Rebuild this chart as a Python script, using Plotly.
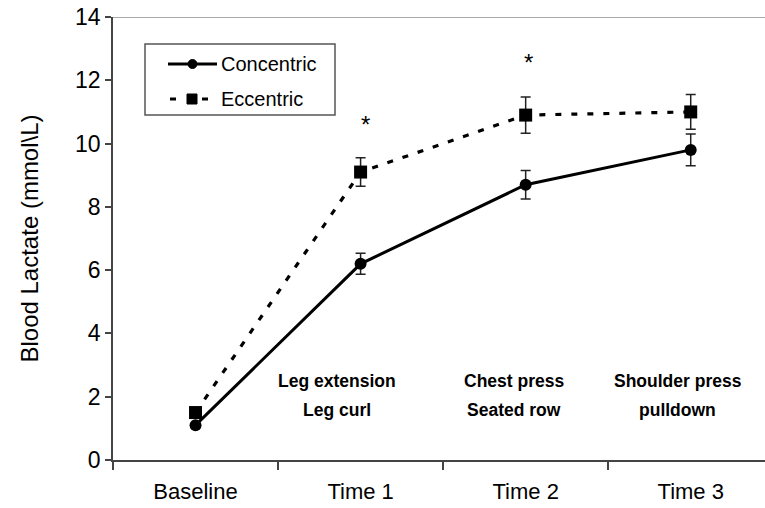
import plotly.graph_objects as go

categories = ["Baseline", "Time 1", "Time 2", "Time 3"]
concentric = [1.1, 6.2, 8.7, 9.8]
concentric_err = [0.0, 0.33, 0.45, 0.5]
eccentric = [1.5, 9.1, 10.9, 11.0]
eccentric_err = [0.0, 0.45, 0.57, 0.55]
exercise_line1 = ["Leg extension", "Chest press", "Shoulder press"]
exercise_line2 = ["Leg curl", "Seated row", "pulldown"]
exercise_x = [0.86, 1.93, 2.92]
exercise_y1 = 2.5
exercise_y2 = 1.58
star_x = [1.03, 2.02]
star_y = [10.6, 12.55]
yticks = [0, 2, 4, 6, 8, 10, 12, 14]
legend_names = ["Concentric", "Eccentric"]

FONT = "Liberation Sans, Arial, sans-serif"

fig = go.Figure()
fig.add_trace(go.Scatter(
    x=categories, y=concentric, name=legend_names[0], mode="lines+markers",
    line=dict(color="black", width=3),
    marker=dict(symbol="circle", size=12, color="black"),
    error_y=dict(type="data", array=concentric_err, color="#222", thickness=1.5, width=5),
    showlegend=False,
))
fig.add_trace(go.Scatter(
    x=categories, y=eccentric, name=legend_names[1], mode="lines+markers",
    line=dict(color="black", width=3.2, dash="6px,10px"),
    marker=dict(symbol="square", size=13, color="black"),
    error_y=dict(type="data", array=eccentric_err, color="#222", thickness=1.5, width=5),
    showlegend=False,
))

for l1, l2, xv in zip(exercise_line1, exercise_line2, exercise_x):
    fig.add_annotation(x=xv, y=exercise_y1, xref="x", yref="y", text="<b>" + l1 + "</b>",
                       showarrow=False, font=dict(family=FONT, size=17.5, color="black"))
    fig.add_annotation(x=xv, y=exercise_y2, xref="x", yref="y", text="<b>" + l2 + "</b>",
                       showarrow=False, font=dict(family=FONT, size=17.5, color="black"))
for xv, yv in zip(star_x, star_y):
    fig.add_annotation(x=xv, y=yv, xref="x", yref="y", text="*", showarrow=False,
                       font=dict(family=FONT, size=24, color="black"))

# top border line at y = 14
fig.add_shape(type="line", xref="paper", yref="y", x0=0, x1=1, y0=14, y1=14,
              line=dict(color="#aaaaaa", width=2))

# legend box (paper coordinates)
PW, PH, L, T = 652.0, 443.0, 113.0, 17.0
def px(x):
    return (x - L) / PW
def py(y):
    return (T + PH - y) / PH

fig.add_shape(type="rect", xref="paper", yref="paper", x0=px(145), x1=px(335), y0=py(115), y1=py(44),
              line=dict(color="#555555", width=1.5), fillcolor="white", layer="below")
# Concentric sample
fig.add_shape(type="line", xref="paper", yref="paper", x0=px(168), x1=px(217), y0=py(64), y1=py(64),
              line=dict(color="black", width=3))
fig.add_shape(type="circle", xref="paper", yref="paper", x0=px(188), x1=px(197), y0=py(68.5), y1=py(59.5),
              line=dict(color="black", width=1), fillcolor="black")
# Eccentric sample
for a, b in [(170, 176), (202, 208)]:
    fig.add_shape(type="line", xref="paper", yref="paper", x0=px(a), x1=px(b), y0=py(99), y1=py(99),
                  line=dict(color="black", width=3))
fig.add_shape(type="rect", xref="paper", yref="paper", x0=px(187), x1=px(197), y0=py(104), y1=py(94),
              line=dict(color="black", width=1), fillcolor="black")
for name, yy in zip(legend_names, [64, 99]):
    fig.add_annotation(x=px(219), y=py(yy), xref="paper", yref="paper", text=name,
                       xanchor="left", yanchor="middle", showarrow=False,
                       font=dict(family=FONT, size=20, color="black"))

fig.update_layout(
    width=765, height=508,
    margin=dict(l=113, r=0, t=17, b=48),
    paper_bgcolor="white", plot_bgcolor="white",
    font=dict(family=FONT, size=20, color="black"),
    showlegend=False,
    xaxis=dict(type="category", range=[-0.5, 3.45], tickson="boundaries",
               ticks="outside", ticklen=8, tickcolor="#444", tickwidth=1.5,
               showline=True, linecolor="#444", linewidth=1.5, showgrid=False,
               zeroline=False, tickfont=dict(family=FONT, size=22),
               ticklabelstandoff=11),
    yaxis=dict(range=[0, 14], tickvals=yticks, ticks="outside", ticklen=6,
               tickcolor="#444", tickwidth=1.5, showline=True, linecolor="#444",
               linewidth=1.5, showgrid=False, zeroline=False,
               tickfont=dict(family=FONT, size=23),
               title=dict(text="Blood Lactate (mmol\\L)", font=dict(family=FONT, size=24), standoff=30)),
)

fig.write_html("out.html")
